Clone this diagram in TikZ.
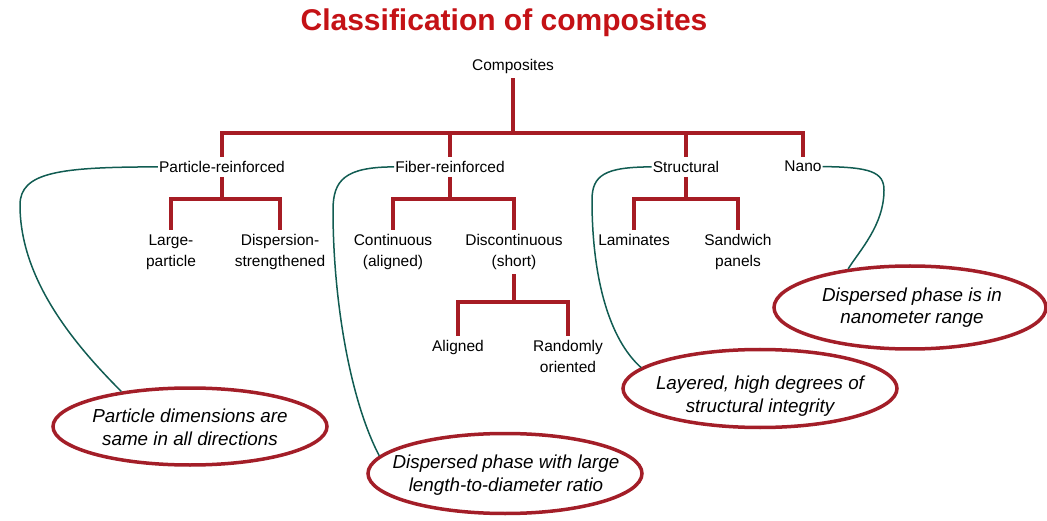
\documentclass[tikz,border=0pt]{standalone}
\usepackage{fontspec}
\setmainfont{Liberation Sans}
\usetikzlibrary{shapes.geometric}
\definecolor{treered}{RGB}{166,28,36}
\definecolor{titlered}{RGB}{196,18,22}
\definecolor{ellred}{RGB}{163,30,40}
\definecolor{linkgreen}{RGB}{17,92,82}
\tikzset{
  lbl/.style={font=\fontsize{15.5}{21}\selectfont, align=center, inner xsep=1pt, inner ysep=4pt, anchor=north},
  tree/.style={draw=treered, line width=4pt},
  note/.style={ellipse, draw=ellred, line width=3.5pt, inner sep=0pt},
  notetext/.style={font=\fontsize{18.8}{22.5}\selectfont\itshape, align=center, inner sep=0pt},
  link/.style={draw=linkgreen, line width=1.5pt},
  titlestyle/.style={font=\fontsize{30}{34}\selectfont\bfseries, text=titlered, inner sep=0pt, anchor=base}
}
\begin{document}
\begin{tikzpicture}[x=1pt,y=-1pt]
\useasboundingbox (0,0) rectangle (1047,521);
\node[titlestyle] (title) at (504,31) {Classification of composites};
% tree labels
\node[lbl] (comp) at (513,55.5) {Composites};
\node[lbl] (pr) at (222,157) {Particle-reinforced};
\node[lbl] (fr) at (450,157) {Fiber-reinforced};
\node[lbl] (st) at (686,157) {Structural};
\node[lbl] (na) at (803,157) {Nano};
\node[lbl] (lp) at (171,230.5) {Large-\\particle};
\node[lbl] (ds) at (280,230.5) {Dispersion-\\strengthened};
\node[lbl] (co) at (393,230.5) {Continuous\\(aligned)};
\node[lbl] (dc) at (514,230.5) {Discontinuous\\(short)};
\node[lbl] (la) at (634,230.5) {Laminates};
\node[lbl] (sw) at (738,230.5) {Sandwich\\panels};
\node[lbl] (al) at (458,336.5) {Aligned};
\node[lbl] (ro) at (568,336.5) {Randomly\\oriented};
% junctions
\coordinate (j0) at (513,133);
\coordinate (j1) at (222,199);
\coordinate (j2) at (450,199);
\coordinate (j3) at (686,199);
\coordinate (j4) at (514,302);
% tree connectors
\draw[tree] (comp.south) -- (j0);
\foreach \n in {pr,fr,st,na} \draw[tree] (j0) -| (\n.north);
\draw[tree] (pr.south) -- (j1);
\foreach \n in {lp,ds} \draw[tree] (j1) -| (\n.north);
\draw[tree] (fr.south) -- (j2);
\foreach \n in {co,dc} \draw[tree] (j2) -| (\n.north);
\draw[tree] (st.south) -- (j3);
\foreach \n in {la,sw} \draw[tree] (j3) -| (\n.north);
\draw[tree] (dc.south) -- (j4);
\foreach \n in {al,ro} \draw[tree] (j4) -| (\n.north);
% ellipses
\node[note, minimum width=274pt, minimum height=77pt] (e1) at (190,426.5) {};
\node[note, minimum width=274pt, minimum height=80pt] (e2) at (505,473.5) {};
\node[note, minimum width=274pt, minimum height=78pt] (e3) at (760,388.5) {};
\node[note, minimum width=272pt, minimum height=83pt] (e4) at (910,307.5) {};
\node[notetext] (t1) at (190,427.5) {Particle dimensions are\\same in all directions};
\node[notetext] (t2) at (506,475) {Dispersed phase with large\\length-to-diameter ratio};
\node[notetext] (t3) at (760,396) {Layered, high degrees of\\structural integrity};
\node[notetext] (t4) at (912,307.5) {Dispersed phase is in\\nanometer range};
% green links
\draw[link] (pr.west) .. controls (60,167) and (20,172) .. (20,205) .. controls (20,280) and (75,345) .. (e1.153);
\draw[link] (fr.west) .. controls (345,167) and (333,180) .. (333,210) .. controls (333,300) and (350,400) .. (e2.172);
\draw[link] (st.west) .. controls (605,167) and (592,175) .. (592,200) .. controls (592,280) and (610,340) .. (e3.170);
\draw[link] (na.east) .. controls (870,167) and (884,172) .. (884,190) .. controls (884,225) and (860,250) .. (e4.148);
\end{tikzpicture}
\end{document}
